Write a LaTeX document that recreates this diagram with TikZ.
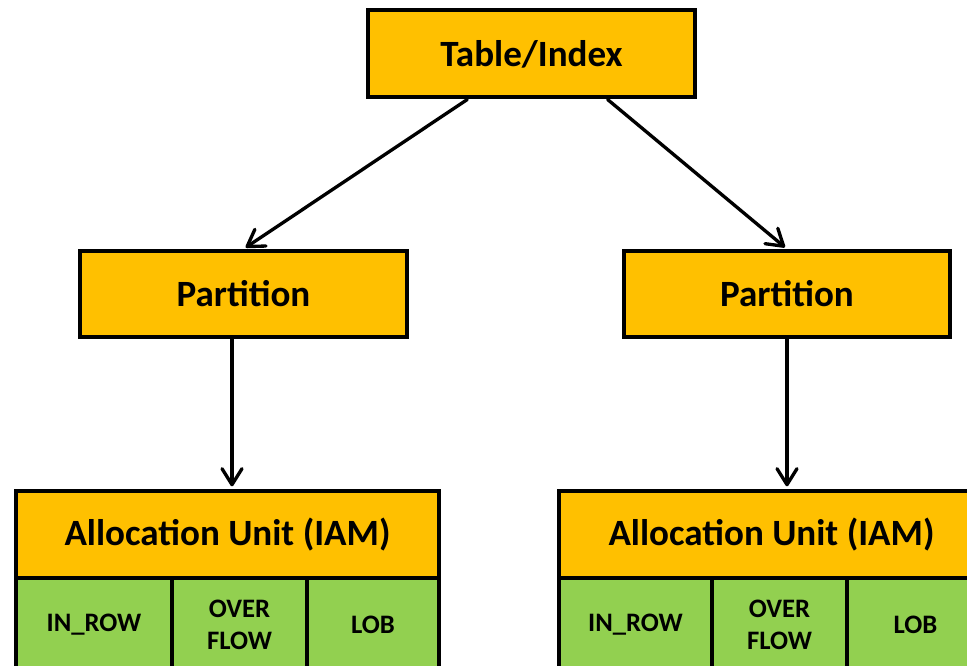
\documentclass[tikz,border=0pt]{standalone}
\usepackage{fontspec}
\setmainfont{Carlito}
\usetikzlibrary{arrows.meta,calc}
\definecolor{boxorange}{HTML}{FFC000}
\definecolor{boxgreen}{HTML}{92D050}
\tikzset{
  orangebox/.style={draw=black, line width=3pt, fill=boxorange, inner sep=0pt,
    font=\fontsize{27.8pt}{32pt}\selectfont\bfseries},
  greencell/.style={draw=black, line width=3pt, fill=boxgreen, inner sep=0pt,
    align=center, minimum height=94*0.75pt,
    font=\fontsize{20pt}{23.5pt}\selectfont\bfseries},
  link/.style={line width=2.5pt, line cap=round,
    -{Straight Barb[length=12pt,width=15pt,round]}, shorten >=2pt}
}
\begin{document}
\begin{tikzpicture}[x=0.75pt,y=-0.75pt]
  \useasboundingbox (0,0) rectangle (967,666);
  \clip (0,0) rectangle (967,666);

  % root and partitions
  \node[orangebox, minimum width=327*0.75pt, minimum height=87*0.75pt] (root) at (531.5,54) {Table/Index};
  \node[orangebox, minimum width=327*0.75pt, minimum height=86*0.75pt] (lpart) at (243.5,294) {Partition};
  \node[orangebox, minimum width=326*0.75pt, minimum height=86*0.75pt] (rpart) at (787,294) {Partition};

  % left allocation unit
  \node[greencell, minimum width=156*0.75pt] (lrow) at (94,625) {IN\_ROW};
  \node[greencell, minimum width=135*0.75pt] (lovf) at (239.5,625) {OVER\\FLOW};
  \node[greencell, minimum width=132*0.75pt] (llob) at (373,625) {LOB};
  \node[orangebox, minimum width=423*0.75pt, minimum height=87*0.75pt] (lau) at (227.5,534.5) {Allocation Unit (IAM)};

  % right allocation unit
  \node[greencell, minimum width=153*0.75pt] (rrow) at (635.5,625) {IN\_ROW};
  \node[greencell, minimum width=135*0.75pt] (rovf) at (779.5,625) {OVER\\FLOW};
  \node[greencell, minimum width=137*0.75pt] (rlob) at (915.5,625) {LOB};
  \node[orangebox, minimum width=425*0.75pt, minimum height=87*0.75pt] (rau) at (771.5,534.5) {Allocation Unit (IAM)};

  % connectors
  \coordinate (rootL) at ($(root.south west)!0.306!(root.south east)$);
  \coordinate (rootR) at ($(root.south west)!0.730!(root.south east)$);
  \coordinate (lpartS) at ($(lpart.south)+(-11.5,0)$);
  \draw[link] (rootL) -- (lpart.north);
  \draw[link] (rootR) -- (rpart.north);
  \draw[link] (lpartS) -- (lpartS |- lau.north);
  \draw[link] (rpart.south) -- (rpart.south |- rau.north);
\end{tikzpicture}
\end{document}
